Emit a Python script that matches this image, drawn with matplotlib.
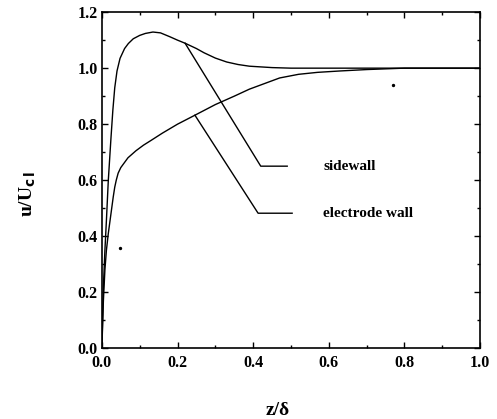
import matplotlib
matplotlib.use("Agg")
import matplotlib.pyplot as plt
from matplotlib.ticker import MultipleLocator

# Data
side_z = [0.0, 0.004, 0.008, 0.012, 0.017, 0.024, 0.029, 0.034, 0.04, 0.048, 0.06,
          0.07, 0.083, 0.1, 0.115, 0.135, 0.155, 0.18, 0.2, 0.22, 0.25, 0.27, 0.3,
          0.33, 0.36, 0.39, 0.45, 0.5, 0.6, 0.7, 0.8, 0.9, 1.0]
side_u = [0.0, 0.22, 0.35, 0.457, 0.6, 0.75, 0.85, 0.93, 0.99, 1.035, 1.07,
          1.088, 1.105, 1.117, 1.124, 1.129, 1.126, 1.112, 1.1, 1.089, 1.07, 1.055, 1.036,
          1.022, 1.013, 1.007, 1.002, 1.0, 1.0, 1.0, 1.0, 1.0, 1.0]

elec_z = [0.0, 0.004, 0.008, 0.012, 0.017, 0.022, 0.026, 0.03, 0.034, 0.038, 0.043,
          0.05, 0.069, 0.09, 0.11, 0.13, 0.16, 0.2, 0.246, 0.3, 0.35, 0.39, 0.43,
          0.47, 0.52, 0.57, 0.63, 0.7, 0.8, 0.9, 1.0]
elec_u = [0.0, 0.17, 0.28, 0.35, 0.41, 0.46, 0.50, 0.54, 0.575, 0.60, 0.625,
          0.645, 0.68, 0.705, 0.725, 0.742, 0.768, 0.8, 0.832, 0.87, 0.9, 0.925, 0.945,
          0.965, 0.978, 0.985, 0.99, 0.995, 1.0, 1.0, 1.0]

stray_z = [0.048, 0.77]
stray_u = [0.357, 0.94]

labels = ["sidewall", "electrode wall"]
leader_start = [(0.22, 1.089), (0.246, 0.832)]
leader_knee = [(0.42, 0.65), (0.413, 0.482)]
leader_end = [(0.49, 0.65), (0.503, 0.482)]
text_pos = [(0.585, 0.65), (0.585, 0.482)]

x_ticks = [0.0, 0.2, 0.4, 0.6, 0.8, 1.0]
x_tick_labels = ['0.0', '0.2', '0.4', '0.6', '0.8', '1.0']
y_ticks = [0.0, 0.2, 0.4, 0.6, 0.8, 1.0, 1.2]
y_tick_labels = ['0.0', '0.2', '0.4', '0.6', '0.8', '1.0', '1.2']

plt.rcParams['font.family'] = ['Liberation Serif', 'DejaVu Serif']
plt.rcParams['font.weight'] = 'bold'

fig = plt.figure(figsize=(4.97, 4.19), dpi=100)
ax = fig.add_axes([0.205, 0.169, 0.761, 0.802])

ax.plot(side_z, side_u, color='black', lw=1.0)
ax.plot(elec_z, elec_u, color='black', lw=1.0)
ax.scatter(stray_z, stray_u, s=2, color='black')

for lab, s, k, e, t in zip(labels, leader_start, leader_knee, leader_end, text_pos):
    ax.plot([s[0], k[0], e[0]], [s[1], k[1], e[1]], color='black', lw=1.0)
    ax.text(t[0], t[1], lab, fontsize=11, fontweight='bold', va='center', ha='left')

ax.set_xlim(0, 1.0)
ax.set_ylim(0, 1.2)
ax.xaxis.set_minor_locator(MultipleLocator(0.1))
ax.yaxis.set_minor_locator(MultipleLocator(0.1))
ax.set_xticks(x_ticks)
ax.set_xticklabels(x_tick_labels, fontweight='bold')
ax.set_yticks(y_ticks)
ax.set_yticklabels(y_tick_labels, fontweight='bold')
ax.tick_params(which='both', direction='in', top=True, right=True, width=1.0)
ax.tick_params(which='major', length=4, labelsize=11.5)
ax.tick_params(axis='x', which='major', pad=5)
ax.tick_params(axis='y', which='major', pad=3)
ax.tick_params(which='minor', length=2.5)
for sp in ax.spines.values():
    sp.set_linewidth(1.2)

ax.text(0.466, -0.185, 'z/δ', transform=ax.transAxes, fontsize=14,
        fontweight='bold', ha='center', va='center')
ax.text(-0.195, 0.46, r'u/U$_{\mathbf{c\,l}}$', transform=ax.transAxes, fontsize=14,
        fontweight='bold', ha='center', va='center', rotation=90)

fig.savefig('out.png', dpi=100)
